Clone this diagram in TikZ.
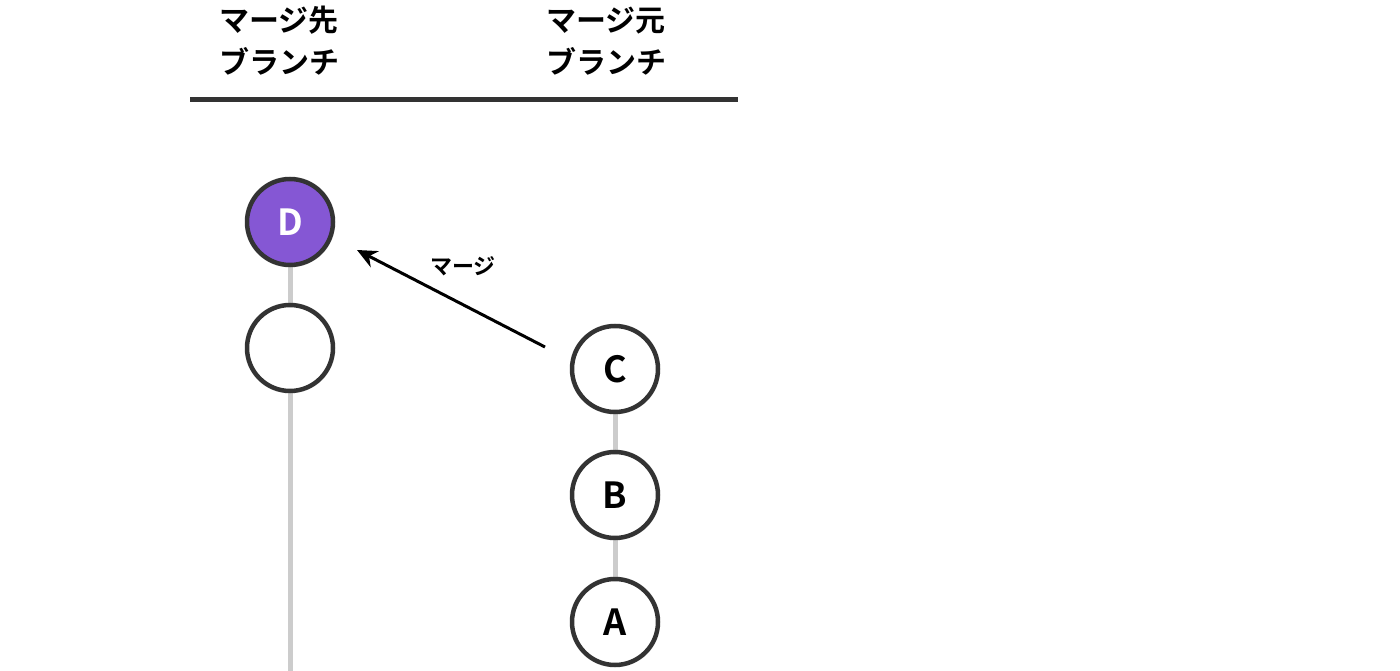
\documentclass[tikz,border=0pt]{standalone}
\usepackage{fontspec}
\usetikzlibrary{arrows.meta}
\newfontfamily\jp{Noto Sans CJK JP}[BoldFont={* Bold}]
\begin{document}
\begin{tikzpicture}[x=1pt,y=-1pt,
  commit/.style={circle,draw=black!80,line width=4.5pt,minimum size=86pt,inner sep=0pt,fill=white,font=\jp\bfseries\fontsize{36}{36}\selectfont},
  branchline/.style={draw=black!20,line width=5pt},
  head/.style={anchor=west,align=left,font=\jp\bfseries\fontsize{30}{42}\selectfont}]
\useasboundingbox[fill=white] (0,0) rectangle (1400,671);
\coordinate (bot) at (290,671);
\draw[branchline] (290,222) -- (bot);
\draw[branchline] (615,369) -- (615,622);
\draw[black!80,line width=5pt] (190,100) -- (738,100);
\node[head] (h1) at (216,41) {マージ先\\ブランチ};
\node[head] (h2) at (543,41) {マージ元\\ブランチ};
\node[commit,fill={rgb,255:red,133;green,87;blue,212},text=white] (D) at (290,222) {D};
\node[commit] (E) at (290,348) {};
\node[commit] (C) at (615,369) {C};
\node[commit] (B) at (615,495) {B};
\node[commit] (A) at (615,622) {A};
\coordinate (s) at (545,347);
\coordinate (t) at (357,250);
\draw[-{Stealth[length=20pt,width=18pt]},line width=3pt] (s) -- (t);
\node[font=\jp\bfseries\fontsize{22}{22}\selectfont] (m) at (463,266) {マージ};
\end{tikzpicture}
\end{document}
